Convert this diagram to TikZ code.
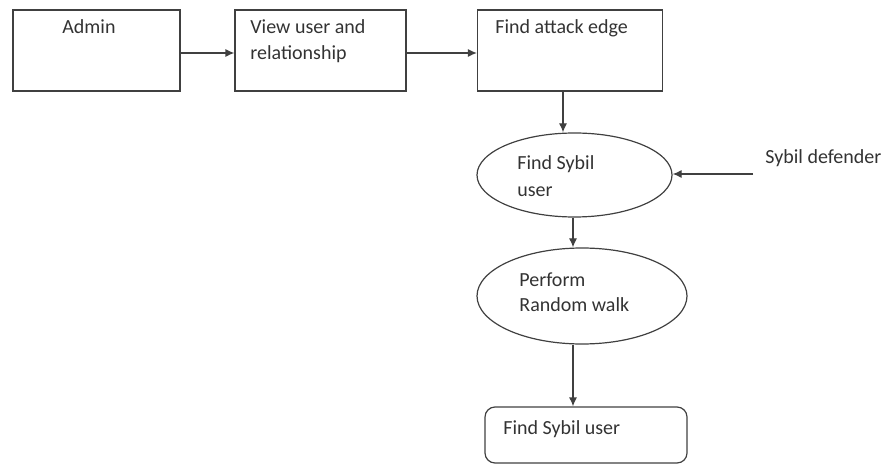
\documentclass[tikz,border=0pt]{standalone}
\usepackage{fontspec}
\setmainfont{Carlito}
\usetikzlibrary{arrows.meta,shapes.geometric}
\begin{document}
\begin{tikzpicture}[x=0.5pt,y=-0.5pt,
  line/.style={draw=black!75,line width=0.6pt},
  arr/.style={line,-{Latex[length=4.5pt,width=4pt]}},
  lbl/.style={anchor=base west,inner sep=0pt,font=\fontsize{10}{12}\selectfont,text=black!80},
  boxn/.style={line,rectangle,minimum width=0pt,inner sep=0pt},
]
\useasboundingbox (0,0) rectangle (886,464);
% boxes
\node[boxn,minimum width=83.5pt,minimum height=40.5pt] (admin) at (96.5,50.5) {};
\node[boxn,minimum width=85.5pt,minimum height=40.5pt] (view) at (320.5,50.5) {};
\node[boxn,minimum width=92.5pt,minimum height=40.5pt] (attack) at (570,50.5) {};
\node[line,ellipse,minimum width=97.5pt,minimum height=42pt,inner sep=0pt] (e1) at (574.5,175) {};
\node[line,ellipse,minimum width=105pt,minimum height=48pt,inner sep=0pt] (e2) at (582,296) {};
\node[line,rectangle,rounded corners=5pt,minimum width=101pt,minimum height=28pt,inner sep=0pt] (fin) at (586,435) {};
\coordinate (def) at (753,174);
% texts
\node[lbl] (t1) at (62,34) {Admin};
\node[lbl] (t2) at (250,34) {View user and};
\node[lbl] (t3) at (250,60) {relationship};
\node[lbl] (t4) at (495,34) {Find attack edge};
\node[lbl] (t5) at (517,170) {Find Sybil};
\node[lbl] (t6) at (517,197) {user};
\node[lbl] (t7) at (519,286) {Perform};
\node[lbl] (t8) at (519,311) {Random walk};
\node[lbl] (t9) at (503,434) {Find Sybil user};
\node[lbl] (t10) at (765,164) {Sybil defender};
% connectors
\draw[arr] (admin.east |- 0,53) -- (view.west |- 0,53);
\draw[arr] (view.east |- 0,53) -- (attack.west |- 0,53);
\draw[arr] (attack.south -| 563,0) -- (e1.north -| 563,0);
\draw[arr] (e1.south -| 573,0) -- (e2.north -| 573,0);
\draw[arr] (e2.south -| 573,0) -- (fin.north -| 573,0);
\draw[arr] (def) -- (e1.east |- def);
\end{tikzpicture}
\end{document}
